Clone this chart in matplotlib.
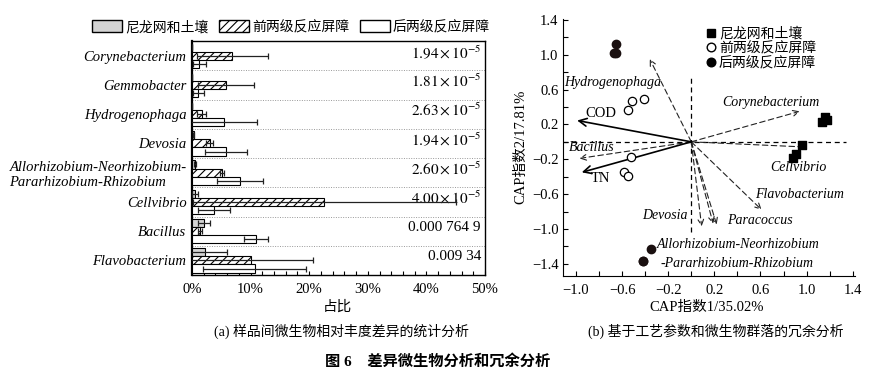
import numpy as np
import matplotlib
matplotlib.use("Agg")
import matplotlib.pyplot as plt
from matplotlib.patches import Patch
from matplotlib.lines import Line2D
from matplotlib.ticker import MultipleLocator, FixedLocator

plt.rcParams['font.family'] = ['Liberation Serif', 'Noto Sans CJK SC', 'DejaVu Sans']
plt.rcParams['mathtext.fontset'] = 'stix'
plt.rcParams['axes.unicode_minus'] = True
plt.rcParams['hatch.linewidth'] = 0.8

# ---------------- data (a) ----------------
genera = ["Corynebacterium", "Gemmobacter", "Hydrogenophaga", "Devosia",
          "Allorhizobium-Neorhizobium-\nPararhizobium-Rhizobium",
          "Cellvibrio", "Bacillus", "Flavobacterium"]
series_names = ["尼龙网和土壤", "前两级反应屏障", "后两级反应屏障"]
nylon_soil = [0.0, 0.0, 0.0, 0.3, 0.5, 0.5, 2.05, 2.2]
nylon_err = [0.0, 0.0, 0.0, 0.1, 0.2, 0.5, 1.0, 3.7]
front = [6.9, 5.8, 1.65, 3.0, 5.1, 22.6, 1.4, 10.0]
front_err = [6.0, 4.8, 0.75, 0.6, 0.4, 22.5, 0.3, 10.7]
back = [1.25, 1.1, 5.5, 5.8, 8.2, 3.8, 10.9, 10.7]
back_err = [1.15, 1.0, 5.6, 3.6, 4.0, 2.7, 2.0, 8.8]
p_values = [r"$1.94\times10^{-5}$", r"$1.81\times10^{-5}$", r"$2.63\times10^{-5}$",
            r"$1.94\times10^{-5}$", r"$2.60\times10^{-5}$", r"$4.00\times10^{-5}$",
            "0.000 764 9", "0.009 34"]
x_ticks_a = [0, 10, 20, 30, 40, 50]

# ---------------- data (b) ----------------
sq_x = [1.13, 1.16, 1.18, 0.96, 0.91, 0.88]
sq_y = [0.23, 0.29, 0.25, -0.04, -0.14, -0.18]
oc_x = [-0.51, -0.41, -0.545, -0.52, -0.58, -0.55]
oc_y = [0.47, 0.49, 0.37, -0.17, -0.345, -0.39]
fc_x = [-0.655, -0.67, -0.65, -0.35, -0.42, -0.42]
fc_y = [1.12, 1.02, 1.02, -1.23, -1.365, -1.37]

env_names = ["COD", "TN"]
env_x = [-0.99, -0.95]
env_y = [0.245, -0.35]

sp_names = ["Hydrogenophaga", "Bacillus", "Corynebacterium", "Cellvibrio",
            "Flavobacterium", "Devosia", "Paracoccus",
            "Allorhizobium-Neorhizobium"]
sp_x = [-0.36, -0.97, 0.94, 1.00, 0.61, 0.09, 0.22, 0.19]
sp_y = [0.95, -0.19, 0.35, -0.06, -0.78, -0.97, -0.95, -0.94]

fig = plt.figure(figsize=(8.81, 3.77), dpi=100)
W, H = 881.0, 377.0

def fx(px):
    return px / W

def fy(py):
    return 1 - py / H

# ================= panel (a) =================
axA = fig.add_axes([fx(192), fy(275), (485 - 192) / W, (275 - 41) / H])
n = len(genera)
yc = np.arange(n)
bh = 0.28
ekw = dict(ecolor='#222222', elinewidth=0.9, capsize=2.2, capthick=0.9)
axA.barh(yc - 0.28, nylon_soil, height=bh, color='#d3d3d3', edgecolor='black',
         linewidth=0.8, xerr=nylon_err, error_kw=ekw, zorder=3)
axA.barh(yc, front, height=bh, color='white', edgecolor='black', hatch='////',
         linewidth=0.8, xerr=front_err, error_kw=ekw, zorder=3)
axA.barh(yc + 0.28, back, height=bh, color='white', edgecolor='black',
         linewidth=0.8, xerr=back_err, error_kw=ekw, zorder=3)
for i in range(n - 1):
    axA.axhline(i + 0.5, color='#999999', lw=0.7, ls=(0, (1, 1.5)), zorder=1)
axA.set_ylim(n - 0.5, -0.5)
axA.set_xlim(0, 50)
axA.set_xticks(x_ticks_a)
axA.set_xticklabels([f"{v}%" for v in x_ticks_a], fontsize=10.5)
axA.xaxis.set_minor_locator(MultipleLocator(2))
axA.tick_params(axis='x', which='both', direction='in', length=3, width=0.8, pad=6)
axA.set_yticks(yc)
axA.set_yticklabels(genera, fontsize=10.5, style='italic')
axA.tick_params(axis='y', length=0, pad=4)
for lab in axA.get_yticklabels():
    lab.set_multialignment('left')
for sp in axA.spines.values():
    sp.set_linewidth(1.0)
axA.spines['left'].set_linewidth(1.6)
for i, p in enumerate(p_values):
    axA.text(49.3, i - 0.13, p, ha='right', va='center', fontsize=11)

handles_a = [Patch(facecolor='#d3d3d3', edgecolor='black', label=series_names[0]),
             Patch(facecolor='white', edgecolor='black', hatch='////', label=series_names[1]),
             Patch(facecolor='white', edgecolor='black', label=series_names[2])]
fig.legend(handles=handles_a, loc='center', bbox_to_anchor=(fx(291), fy(27)), ncol=3,
           frameon=False, fontsize=10, handlelength=2.15, handleheight=0.95,
           columnspacing=0.75, handletextpad=0.25)

fig.text(fx(337), fy(307), "占比", ha='center', va='center', fontsize=10.5)
fig.text(fx(341), fy(331), "(a) 样品间微生物相对丰度差异的统计分析", ha='center', va='center', fontsize=10)

# ================= panel (b) =================
axB = fig.add_axes([fx(563.3), fy(276), (855 - 563.3) / W, (276 - 19) / H])
axB.set_xlim(-1.11, 1.42)
axB.set_ylim(-1.54, 1.41)
axB.spines['top'].set_visible(False)
axB.spines['right'].set_visible(False)
ticks_b = [-1.0, -0.6, -0.2, 0.2, 0.6, 1.0, 1.4]
axB.set_xticks(ticks_b)
axB.set_yticks([-1.4, -1.0, -0.6, -0.2, 0.2, 0.6, 1.0, 1.4])
axB.xaxis.set_minor_locator(FixedLocator([-0.8, -0.4, 0.0, 0.4, 0.8, 1.2]))
axB.yaxis.set_minor_locator(FixedLocator([-1.2, -0.8, -0.4, 0.0, 0.4, 0.8, 1.2]))
fmt = matplotlib.ticker.FuncFormatter(lambda v, p: f"{v:.1f}".replace('-', '\u2212'))
axB.xaxis.set_major_formatter(fmt)
axB.yaxis.set_major_formatter(fmt)
axB.tick_params(axis='both', which='both', direction='in', length=3.5, width=0.8, labelsize=10.5)
axB.tick_params(axis='x', pad=6)

axB.plot([-1.11, 1.34], [0, 0], color='black', lw=0.9, ls=(0, (4, 3)), zorder=1)
axB.plot([0, 0], [-1.04, 0.75], color='black', lw=0.9, ls=(0, (4, 3)), zorder=1)

for x, y in zip(sp_x, sp_y):
    axB.annotate('', xy=(x, y), xytext=(0, 0),
                 arrowprops=dict(arrowstyle='->', linestyle=(0, (5, 3)), lw=0.8,
                                 color='#222222', shrinkA=0, shrinkB=0,
                                 mutation_scale=10))
for x, y in zip(env_x, env_y):
    axB.annotate('', xy=(x, y), xytext=(0, 0),
                 arrowprops=dict(arrowstyle='->', lw=1.2, color='black',
                                 shrinkA=0, shrinkB=0, mutation_scale=14))

axB.scatter(sq_x, sq_y, marker='s', s=40, color='black', zorder=4)
axB.scatter(oc_x, oc_y, marker='o', s=36, facecolor='white', edgecolor='black', lw=0.9, zorder=4)
axB.scatter(fc_x, fc_y, marker='o', s=36, color='#1a1010', zorder=4)

tkw = dict(fontsize=10, style='italic')
axB.text(-1.10, 0.68, sp_names[0], ha='left', va='center', **tkw)
axB.text(-1.06, -0.07, sp_names[1], ha='left', va='center', **tkw)
axB.text(0.69, 0.455, sp_names[2], ha='center', va='center', **tkw)
axB.text(0.93, -0.29, sp_names[3], ha='center', va='center', **tkw)
axB.text(0.55, -0.60, sp_names[4], ha='left', va='center', **tkw)
axB.text(-0.03, -0.85, sp_names[5], ha='right', va='center', **tkw)
axB.text(0.31, -0.905, sp_names[6], ha='left', va='center', **tkw)
axB.text(-0.30, -1.18, "Allorhizobium-Neorhizobium", ha='left', va='center', **tkw)
axB.text(-0.27, -1.40, "-Pararhizobium-Rhizobium", ha='left', va='center', **tkw)
axB.text(-0.92, 0.33, env_names[0], ha='left', va='center', fontsize=10.5)
axB.text(-0.79, -0.42, env_names[1], ha='center', va='center', fontsize=10.5)

handles_b = [Line2D([], [], marker='s', ls='none', color='black', markersize=6.2),
             Line2D([], [], marker='o', ls='none', markerfacecolor='white',
                    markeredgecolor='black', markersize=6.2),
             Line2D([], [], marker='o', ls='none', color='black', markersize=6.2)]
axB.legend(handles_b, series_names, loc='upper left', bbox_to_anchor=(0.453, 1.014),
           frameon=False, fontsize=10, handlelength=0.6, handletextpad=0.3,
           labelspacing=0.1, borderpad=0.3)

fig.text(fx(520.7), fy(147), "CAP指数2/17.81%", rotation=90, ha='center', va='center', fontsize=10.5)
fig.text(fx(707), fy(307), "CAP指数1/35.02%", ha='center', va='center', fontsize=10.5)
fig.text(fx(716), fy(331), "(b) 基于工艺参数和微生物群落的冗余分析", ha='center', va='center', fontsize=10)

fig.text(fx(438), fy(361), "图 6    差异微生物分析和冗余分析", ha='center', va='center',
         fontsize=11, fontweight='bold')

fig.savefig("out.png", dpi=100)
